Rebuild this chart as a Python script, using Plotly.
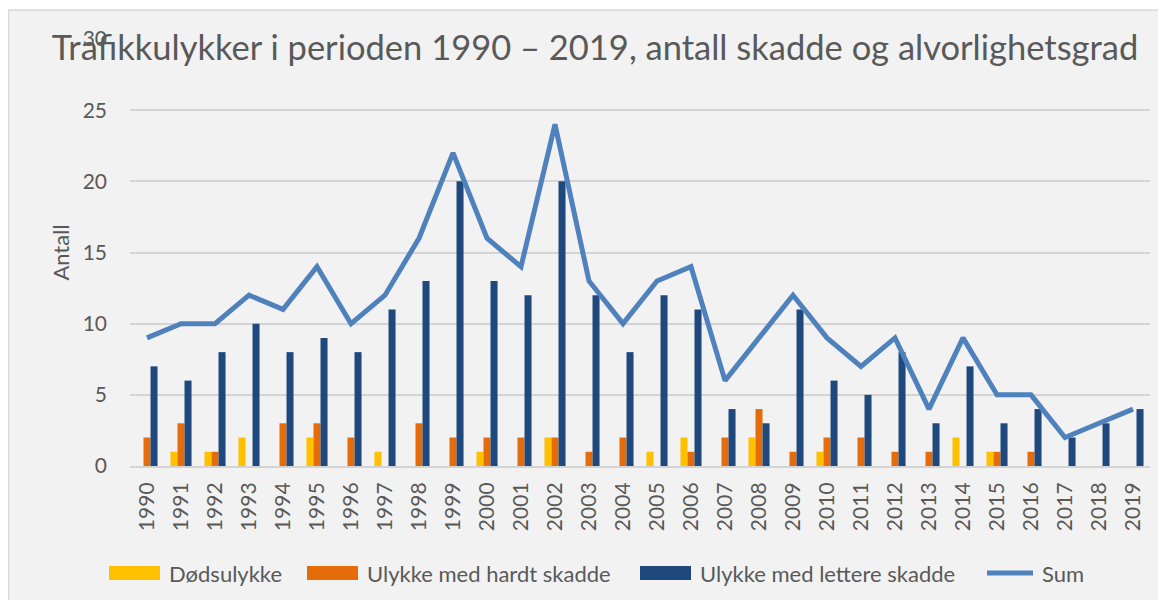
import plotly.graph_objects as go

years = [str(y) for y in range(1990, 2020)]
dodsulykke = [0, 1, 1, 2, 0, 2, 0, 1, 0, 0, 1, 0, 2, 0, 0, 1, 2, 0, 2, 0, 1, 0, 0, 0, 2, 1, 0, 0, 0, 0]
hardt = [2, 3, 1, 0, 3, 3, 2, 0, 3, 2, 2, 2, 2, 1, 2, 0, 1, 2, 4, 1, 2, 2, 1, 1, 0, 1, 1, 0, 0, 0]
lettere = [7, 6, 8, 10, 8, 9, 8, 11, 13, 20, 13, 12, 20, 12, 8, 12, 11, 4, 3, 11, 6, 5, 8, 3, 7, 3, 4, 2, 3, 4]
summ = [9, 10, 10, 12, 11, 14, 10, 12, 16, 22, 16, 14, 24, 13, 10, 13, 14, 6, 9, 12, 9, 7, 9, 4, 9, 5, 5, 2, 3, 4]
y_ticks = [0, 5, 10, 15, 20, 25, 30]

names = ["Dødsulykke", "Ulykke med hardt skadde", "Ulykke med lettere skadde", "Sum"]
colors = ["#FFC000", "#E46C0A", "#1F497D", "#4F81BD"]

# page body has an 8px margin; work in reference-pixel coords and offset
OFF = 8
W, H = 1166 - OFF, 600 - OFF
L, T = 130 - OFF, 39 - OFF
R = W - (1150 - OFF)
B = H - (466 - OFF)
PW, PH = W - L - R, H - T - B
FONT = "Lato"
GRAY = "#595959"

def xp(px):  # reference pixel -> paper
    return (px - OFF - L) / PW

def yp(py):
    return (H - B - (py - OFF)) / PH

fig = go.Figure()
for vals, name, col in zip([dodsulykke, hardt, lettere], names[:3], colors[:3]):
    fig.add_trace(go.Bar(x=years, y=vals, name=name, marker=dict(color=col, line=dict(width=0))))
fig.add_trace(go.Scatter(x=years, y=summ, name=names[3], mode="lines",
                         line=dict(color=colors[3], width=5)))

shapes = [
    dict(type="rect", xref="paper", yref="paper", x0=xp(OFF), x1=xp(1166), y0=yp(10), y1=yp(OFF),
         fillcolor="white", line=dict(width=0), layer="below"),
    dict(type="line", xref="paper", yref="paper", x0=xp(OFF), x1=xp(1166), y0=yp(10), y1=yp(10),
         line=dict(color="#D9D9D9", width=1.5), layer="below"),
    dict(type="line", xref="paper", yref="paper", x0=xp(OFF + 0.5), x1=xp(OFF + 0.5), y0=yp(10), y1=yp(600),
         line=dict(color="#D9D9D9", width=1.5), layer="below"),
]

leg_y = 573
sq = [(109, 160, 167), (307, 358, 365), (640, 691, 698)]
annotations = []
for (a, b, tx), name, col in zip(sq, names[:3], colors[:3]):
    shapes.append(dict(type="rect", xref="paper", yref="paper", x0=xp(a), x1=xp(b),
                       y0=yp(leg_y + 7), y1=yp(leg_y - 7), fillcolor=col, line=dict(width=0)))
    annotations.append(dict(xref="paper", yref="paper", x=xp(tx), y=yp(leg_y), text=name,
                            showarrow=False, xanchor="left", yanchor="middle",
                            font=dict(family=FONT, size=22, color=GRAY)))
shapes.append(dict(type="line", xref="paper", yref="paper", x0=xp(987), x1=xp(1033),
                   y0=yp(leg_y), y1=yp(leg_y), line=dict(color=colors[3], width=5)))
annotations.append(dict(xref="paper", yref="paper", x=xp(1040), y=yp(leg_y), text=names[3],
                        showarrow=False, xanchor="left", yanchor="middle",
                        font=dict(family=FONT, size=22, color=GRAY)))

fig.update_layout(
    width=W, height=H,
    margin=dict(l=L, r=R, t=T, b=B, pad=0),
    paper_bgcolor="#F2F2F2", plot_bgcolor="#F2F2F2",
    barmode="group", bargap=0.38, bargroupgap=0,
    showlegend=False,
    title=dict(text="Trafikkulykker i perioden 1990 – 2019, antall skadde og alvorlighetsgrad",
               x=(595 - OFF) / W, xanchor="center", y=1 - (48 - OFF) / H, yanchor="middle",
               font=dict(family=FONT, size=34.5, color=GRAY)),
    font=dict(family=FONT, color=GRAY),
    shapes=shapes, annotations=annotations,
    xaxis=dict(type="category", tickangle=-90, tickfont=dict(family=FONT, size=21, color=GRAY),
               showgrid=False, showline=True, linecolor="#D4D4D4", linewidth=2,
               ticks="", ticklabelstandoff=6),
    yaxis=dict(range=[0, 30], tickvals=y_ticks, tickfont=dict(family=FONT, size=21, color=GRAY),
               showgrid=True, gridcolor="#D4D4D4", gridwidth=2, zeroline=False,
               showline=False, ticks="", ticklabelstandoff=22,
               title=dict(text="Antall", font=dict(family=FONT, size=22, color=GRAY), standoff=6)),
)

fig.write_html("out.html")
